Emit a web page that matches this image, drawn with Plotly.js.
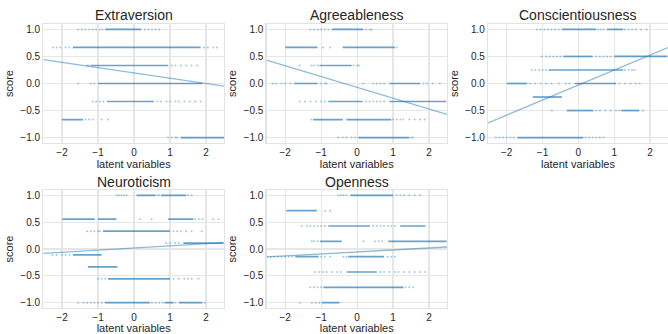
<!DOCTYPE html>
<html>
<head>
<meta charset="utf-8">
<script src="https://cdn.plot.ly/plotly-3.0.1.min.js"></script>
<style>html,body{margin:0;padding:0;background:#fff;}#chart{width:668px;height:334px;}</style>
</head>
<body>
<div id="chart"></div>
<script>
// ---------- data ----------
const traitNames = ["Extraversion", "Agreeableness", "Conscientiousness", "Neuroticism", "Openness"];

// Extraversion
const extraLevels = [1, 0.667, 0.333, 0, -0.333, -0.667, -1];
const extraDense = [[[-0.8, 0.2]], [[-1.7, 1.85]], [[-1.2, 0.95]], [[-1.0, 1.9]], [[-0.75, 0.55]], [[-2.0, -1.42]], [[1.3, 2.5]]];
const extraSparse = [
  [-1.55, -1.45, -1.35, -1.25, -1.15, -1.05, -0.95, -0.88, 0.3, 0.4, 0.5, 0.6, 0.7],
  [-2.25, -2.15, -2.05, -1.9, -1.8, 1.95, 2.05, 2.2, 2.3],
  [-1.3, -1.25, 1.05, 1.15, 1.3, 1.45, 1.6, 1.75],
  [-1.55, -1.2, -1.1],
  [-1.15, -1.05, -0.95, -0.85, 0.65, 0.75, 0.9, 1.0, 1.15, 1.25, 1.4, 1.55, 1.7, 1.85],
  [-1.35, -1.25, -1.15, -0.9, -0.72],
  [0.95, 1.05, 1.15, 1.2]
];
const extraFit = [0.195, -0.097]; // intercept, slope

// Agreeableness
const agreeLevels = [1, 0.667, 0.333, 0, -0.333, -0.667, -1];
const agreeDense = [[[-0.7, 0.17]], [[-2.0, -1.1], [-0.4, 1.05]], [[-1.05, -0.15]], [[-1.75, -1.1], [0.9, 1.75]], [[-0.8, 0.15], [0.9, 2.48]], [[-1.22, -0.4], [-0.3, 0.95]], [[0.03, 1.45]]];
const agreeSparse = [
  [-1.3, -1.2, -1.1, -1.0, -0.9, -0.8, 0.25, 0.35, 0.4],
  [-0.95, -0.75, 1.1],
  [-1.6, -1.27, -1.2, -1.1, -0.1, 0.0, 0.05],
  [-2.35, -2.25, -2.1, -2.0, -1.85, -1.0, -0.9, -0.85, 0.17, 0.45, 0.55, 0.65, 0.75, 1.85, 1.95, 2.1, 2.3],
  [-1.6, -1.45, -1.3, -1.15, -1.0, -0.9, 0.25, 0.35, 0.45, 0.55, 0.65, 0.75],
  [-1.27, 1.0, 1.1, 1.2, 1.28, 1.45, 1.6, 1.75, 1.88],
  [-0.53, -0.4, -0.3, -0.15, -0.05, 1.5, 1.55]
];
const agreeFit = [-0.07, -0.2];

// Conscientiousness
const consLevels = [1, 0.5, 0.25, 0, -0.25, -0.5, -1];
const consDense = [[[-0.46, 0.5], [0.8, 1.25]], [[-0.42, 0.4], [1.0, 2.48]], [[-0.83, 1.25]], [[-2.0, -1.43], [-0.1, 1.05]], [[-1.27, -0.46]], [[-0.32, 0.42], [1.2, 1.7]], [[-1.7, 0.14]]];
const consSparse = [
  [-1.16, -1.05, -0.95, -0.85, -0.75, -0.65, -0.55, 0.55, 0.62, 0.7, 1.3, 1.4, 1.5, 1.6, 1.75, 1.9],
  [-1.02, -0.9, -0.8, -0.7, -0.6, -0.5, 0.5, 0.6, 0.7, 0.8, 0.9],
  [-1.3, -1.2, -1.1, -1.0, -0.9, 1.3, 1.4, 1.5, 1.57],
  [-1.35, -1.2, -1.05, -0.9, -0.75, -0.55, -0.35, -0.25, 1.15, 1.3, 1.45, 1.6, 1.71],
  [],
  [-0.74, 0.5, 0.6, 0.75, 0.9, 1.05, 1.15, 1.8],
  [-2.3, -2.2, -2.1, -2.0, -1.9, -1.8, 0.2, 0.3, 0.4, 0.5, 0.6, 0.7]
];
const consFit = [-0.03, 0.277];

// Neuroticism
const neuroLevels = [1, 0.556, 0.333, 0.111, -0.111, -0.333, -0.556, -1];
const neuroDense = [[[0.07, 0.6], [0.75, 1.45]], [[-1.99, -1.09], [-1.0, -0.49], [0.95, 1.65]], [[-0.86, 1.0]], [[1.37, 2.48]], [[-1.7, -0.9]], [[-1.28, -0.46]], [[-0.72, 1.0]], [[-0.81, 0.44], [0.85, 1.1], [1.25, 1.9]]];
const neuroSparse = [
  [-0.49, -0.42, -0.35, -0.28, -0.2, 0.65, 0.7, 1.5, 1.6],
  [0.16, 0.49, 1.7, 1.8, 1.9, 2.2, 2.35],
  [-1.3, -1.2, -1.1, -1.0, -0.95, 1.1, 1.2, 1.3, 1.45, 1.6, 1.88],
  [0.9, 1.0, 1.14, 1.25],
  [-2.27, -2.15, -2.0, -1.9, -1.79],
  [],
  [-1.0, -0.9, -0.8, 1.1, 1.25, 1.4, 1.5, 1.6, 1.79],
  [-1.55, -1.4, -1.3, -1.2, -1.1, -1.0, -0.9, 0.5, 0.6, 0.7, 0.8, 1.15, 1.97]
];
const neuroFit = [0.02, 0.04];

// Openness
const openLevels = [1, 0.714, 0.429, 0.143, -0.143, -0.429, -0.714, -1];
const openDense = [[[-0.19, 1.0]], [[-1.97, -1.12]], [[-0.8, 0.36], [1.2, 1.9]], [[-1.03, -0.43], [0.87, 2.49]], [[-1.72, -1.07], [-0.25, 0.75]], [[-0.29, 0.55]], [[-0.94, 1.29]], [[-0.98, -0.49]]];
const openSparse = [
  [-0.52, -0.45, -0.38, -0.3, 1.1, 1.2, 1.3, 1.45, 1.6, 1.75],
  [-0.89, -0.75],
  [-1.54, -1.4, -1.3, -1.2, -1.1, -1.0, -0.9, 0.45, 0.55, 0.65, 0.75, 0.85, 0.95, 1.05],
  [-1.26, -1.2, -1.1, 0.18, 0.5, 0.6, 0.7],
  [-2.5, -2.4, -2.3, -2.2, -2.1, -2.0, -1.9, -1.8, -1.0, -0.9, -0.75, -0.38, -0.3, 0.85, 0.95, 1.05],
  [-1.17, -1.05, -0.95, -0.85, -0.7, -0.55, -0.45, 0.65, 0.75, 0.9, 1.05, 1.15, 1.3, 1.45, 1.6, 1.75, 1.89],
  [-1.3, -1.2, -1.1, -1.0, 1.35, 1.45, 1.56],
  [-1.58, -1.26, -1.15, -1.05]
];
const openFit = [-0.055, 0.037];

const xTickVals = [-2, -1, 0, 1, 2];
const yTickVals = [-1, -0.5, 0, 0.5, 1];
const xRange = [-2.52, 2.5];
const yRange = [-1.1, 1.1];

// ---------- build ----------
const W = 668, H = 334;
const panels = [
  {lv: extraLevels, dn: extraDense, sp: extraSparse, fit: extraFit, px: [43.3, 224], py: [24, 143]},
  {lv: agreeLevels, dn: agreeDense, sp: agreeSparse, fit: agreeFit, px: [266.5, 447], py: [24, 143]},
  {lv: consLevels, dn: consDense, sp: consSparse, fit: consFit, px: [488, 668], py: [24, 143]},
  {lv: neuroLevels, dn: neuroDense, sp: neuroSparse, fit: neuroFit, px: [43.3, 224], py: [190, 308]},
  {lv: openLevels, dn: openDense, sp: openSparse, fit: openFit, px: [266.5, 447], py: [190, 308]}
];

const blue = '#1f77b4';
const font = 'Liberation Sans, Arial, sans-serif';
const textColor = '#262626';
const traces = [];
const layout = {
  width: W, height: H,
  margin: {l: 0, r: 0, t: 0, b: 0},
  paper_bgcolor: '#ffffff', plot_bgcolor: '#ffffff',
  showlegend: false,
  font: {family: font, color: textColor},
  annotations: []
};

panels.forEach((p, i) => {
  const k = i + 1;
  const xa = 'x' + (k === 1 ? '' : k), ya = 'y' + (k === 1 ? '' : k);
  const xKey = 'xaxis' + (k === 1 ? '' : k), yKey = 'yaxis' + (k === 1 ? '' : k);
  // dense runs
  const dx = [], dy = [];
  p.dn.forEach((runs, j) => runs.forEach(r => { dx.push(r[0], r[1], null); dy.push(p.lv[j], p.lv[j], null); }));
  traces.push({type: 'scatter', mode: 'lines', x: dx, y: dy, xaxis: xa, yaxis: ya,
    line: {color: 'rgba(31,119,180,0.68)', width: 1.7}, hoverinfo: 'skip'});
  // sparse points
  const sx = [], sy = [];
  p.sp.forEach((xs, j) => xs.forEach(v => { sx.push(v); sy.push(p.lv[j]); }));
  traces.push({type: 'scatter', mode: 'markers', x: sx, y: sy, xaxis: xa, yaxis: ya,
    marker: {color: blue, size: 2, opacity: 0.4, line: {width: 0}}, hoverinfo: 'skip'});
  // regression line
  traces.push({type: 'scatter', mode: 'lines', x: xRange, y: xRange.map(v => p.fit[0] + p.fit[1] * v),
    xaxis: xa, yaxis: ya, line: {color: 'rgba(31,119,180,0.5)', width: 1.3}, hoverinfo: 'skip'});

  const common = {
    showgrid: true, gridcolor: '#e6e6e6', gridwidth: 1.2, zeroline: false,
    showline: true, linecolor: '#e2e2e2', linewidth: 1.2, mirror: true,
    ticks: '', tickfont: {family: font, size: 10, color: textColor},
    fixedrange: true
  };
  layout[xKey] = Object.assign({}, common, {
    domain: [p.px[0] / W, p.px[1] / W], anchor: ya, range: xRange, tickvals: xTickVals,
    title: {text: 'latent variables', font: {family: font, size: 11, color: textColor}, standoff: 3}
  });
  layout[yKey] = Object.assign({}, common, {
    domain: [1 - p.py[1] / H, 1 - p.py[0] / H], anchor: xa, range: yRange, tickvals: yTickVals, tickformat: '.1f',
    title: {text: 'score', font: {family: font, size: 11, color: textColor}, standoff: 4}
  });
  layout.annotations.push({
    text: traitNames[i], xref: 'paper', yref: 'paper', showarrow: false,
    x: (p.px[0] + p.px[1]) / 2 / W, y: 1 - (p.py[0] - 8.5) / H, xanchor: 'center', yanchor: 'middle',
    font: {family: font, size: 14, color: textColor}
  });
});

Plotly.newPlot('chart', traces, layout, {displayModeBar: false, staticPlot: true});
</script>
</body>
</html>
